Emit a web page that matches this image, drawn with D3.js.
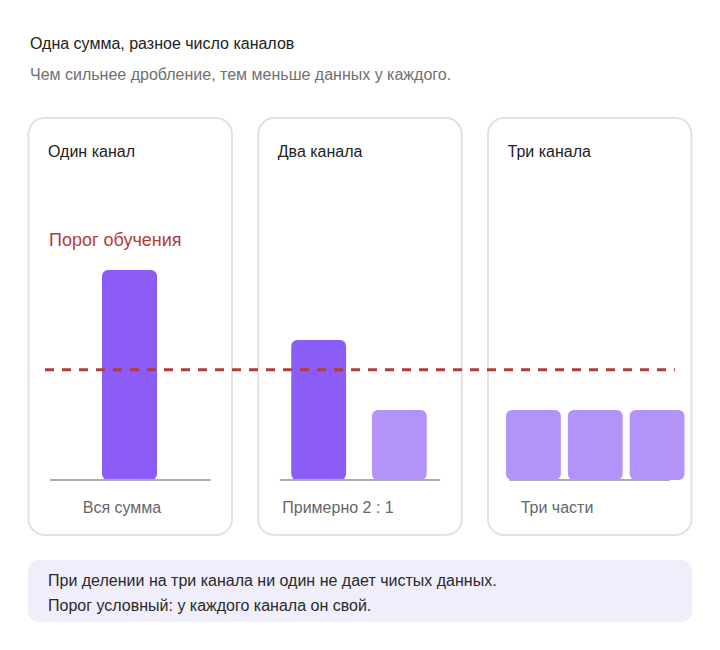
<!DOCTYPE html>
<html>
<head>
<meta charset="utf-8">
<script src="https://cdn.jsdelivr.net/npm/d3@7"></script>
<style>
  html, body { margin: 0; padding: 0; background: #fff; }
  svg { display: block; font-family: "Liberation Sans", Arial, Helvetica, sans-serif; }
</style>
</head>
<body>
<div id="chart"></div>
<script>
// ---- data ----
const title = "Одна сумма, разное число каналов";
const subtitle = "Чем сильнее дробление, тем меньше данных у каждого.";
const panelTitles = ["Один канал", "Два канала", "Три канала"];
const panelCaptions = ["Вся сумма", "Примерно 2 : 1", "Три части"];
const valuesOne = [90];
const valuesTwo = [60, 30];
const valuesThree = [30, 30, 30];
const thresholdValue = 47.2;
const thresholdLabel = "Порог обучения";
const noteLines = [
  "При делении на три канала ни один не дает чистых данных.",
  "Порог условный: у каждого канала он свой."
];

// ---- layout ----
const W = 720, H = 650;
const svg = d3.select("#chart").append("svg").attr("width", W).attr("height", H);

svg.append("text").attr("x", 30).attr("y", 49)
  .attr("font-size", 16).attr("fill", "#222").text(title);
svg.append("text").attr("x", 30).attr("y", 80)
  .attr("font-size", 16).attr("fill", "#707070").text(subtitle);

const panelX = d3.scaleBand().domain(d3.range(3)).range([28, 692]).paddingInner(0.11);
const panelW = panelX.bandwidth();
const panelTop = 118, panelBottom = 535;

const y = d3.scaleLinear().domain([0, 90]).range([480, 270]);

const seriesList = [valuesOne, valuesTwo, valuesThree];
const colors = [["#8b5cf6"], ["#8b5cf6", "#b493f8"], ["#b493f8", "#b493f8", "#b493f8"]];
// bar band ranges relative to panel left
const barRanges = [[74, 129], [33.5, 169], [18.5, 197]];
const barPadding = [0, 0.32, 0.113];
const captionX = [122, 338, 557];

seriesList.forEach((vals, i) => {
  const px = panelX(i);
  const g = svg.append("g").attr("transform", `translate(${px},0)`);
  g.append("rect")
    .attr("x", 0.5).attr("y", panelTop)
    .attr("width", panelW - 1).attr("height", panelBottom - panelTop)
    .attr("rx", 16).attr("ry", 16)
    .attr("fill", "#fff").attr("stroke", "#e2e2e2").attr("stroke-width", 2);
  g.append("text").attr("x", 20).attr("y", 157)
    .attr("font-size", 16).attr("fill", "#222").text(panelTitles[i]);

  const xb = d3.scaleBand().domain(d3.range(vals.length))
    .range(barRanges[i]).paddingInner(barPadding[i]).paddingOuter(0);

  g.selectAll("rect.bar").data(vals).join("rect")
    .attr("class", "bar")
    .attr("x", (d, j) => xb(j))
    .attr("y", d => y(d))
    .attr("width", xb.bandwidth())
    .attr("height", d => y(0) - y(d))
    .attr("rx", 6).attr("ry", 6)
    .attr("fill", (d, j) => colors[i][j]);

  g.append("line")
    .attr("x1", 22).attr("x2", panelW - 22)
    .attr("y1", y(0)).attr("y2", y(0))
    .attr("stroke", "#aaaaaa").attr("stroke-width", 2);

  svg.append("text").attr("x", captionX[i]).attr("y", 513)
    .attr("text-anchor", "middle")
    .attr("font-size", 16).attr("fill", "#666").text(panelCaptions[i]);
});

// threshold line
svg.append("line")
  .attr("x1", 45).attr("x2", 675)
  .attr("y1", y(thresholdValue)).attr("y2", y(thresholdValue))
  .attr("stroke", "#b53a3a").attr("stroke-width", 3)
  .attr("stroke-dasharray", "9,8");
svg.append("text").attr("x", 49).attr("y", 246)
  .attr("font-size", 18).attr("fill", "#b53a3a").text(thresholdLabel);

// note box
svg.append("rect").attr("x", 28).attr("y", 560).attr("width", 664).attr("height", 62)
  .attr("rx", 10).attr("ry", 10).attr("fill", "#f0eefb");
svg.selectAll("text.note").data(noteLines).join("text")
  .attr("class", "note")
  .attr("x", 48).attr("y", (d, i) => 586 + i * 25)
  .attr("font-size", 16).attr("fill", "#2a2a2a").text(d => d);
</script>
</body>
</html>
